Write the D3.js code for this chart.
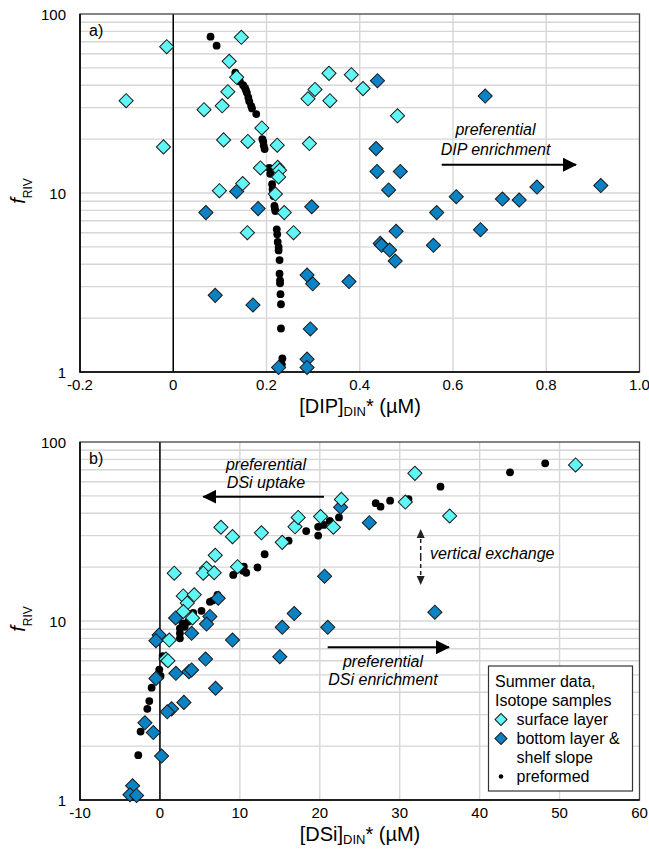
<!DOCTYPE html>
<html><head><meta charset="utf-8">
<script src="https://cdnjs.cloudflare.com/ajax/libs/d3/7.8.5/d3.min.js"></script>
<style>html,body{margin:0;padding:0;background:#fff;}svg{display:block;font-family:"Liberation Sans",Arial,sans-serif;}</style>
</head><body>
<svg id="c" width="649" height="855"></svg>
<script>
// ---------- DATA ----------
// Panel a: x = [DIP]_DIN* (µM), y = f_RIV
const aSurface = [[-0.014,65.7],[-0.101,32.8],[-0.021,18.1],[0.146,74.1],[0.120,54.4],[0.136,44.3],[0.117,36.8],[0.105,30.7],[0.066,29.2],[0.190,23.1],[0.108,19.8],[0.160,19.4],[0.223,18.5],[0.292,18.9],[0.187,13.8],[0.224,13.9],[0.228,13.4],[0.226,12.3],[0.149,11.3],[0.099,10.3],[0.219,9.87],[0.238,7.77],[0.159,6.0],[0.258,6.0],[0.334,46.6],[0.382,45.8],[0.407,38.3],[0.304,37.9],[0.289,33.6],[0.336,32.8],[0.481,27.0]];
const aBottom = [[0.136,10.2],[0.070,7.77],[0.182,8.18],[0.297,8.38],[0.090,2.68],[0.171,2.37],[0.226,1.06],[0.287,3.48],[0.299,3.11],[0.294,1.74],[0.287,1.18],[0.287,1.06],[0.462,10.4],[0.607,9.54],[0.706,9.25],[0.742,9.14],[0.780,10.8],[0.917,11.0],[0.565,7.77],[0.478,6.11],[0.659,6.24],[0.444,5.23],[0.447,5.10],[0.464,4.80],[0.476,4.17],[0.558,5.10],[0.377,3.20],[0.438,42.4],[0.669,34.8],[0.435,17.7],[0.437,13.2],[0.487,13.2]];
const aPreformed = [[0.080,74.7],[0.093,66.5],[0.133,47.0],[0.140,43.3],[0.143,41.9],[0.150,40.0],[0.154,38.6],[0.156,37.5],[0.158,36.3],[0.161,34.2],[0.163,32.5],[0.167,30.7],[0.169,29.7],[0.178,27.6],[0.191,20.0],[0.193,19.4],[0.194,18.4],[0.196,17.6],[0.206,13.8],[0.208,12.8],[0.212,11.2],[0.213,10.5],[0.214,10.0],[0.215,9.62],[0.217,8.46],[0.218,8.2],[0.219,7.93],[0.222,6.27],[0.223,5.88],[0.224,5.33],[0.226,4.99],[0.226,4.78],[0.228,4.22],[0.228,3.54],[0.229,3.25],[0.229,3.13],[0.230,2.72],[0.231,2.39],[0.231,1.75],[0.234,1.19],[0.233,1.10]];
// Panel b: x = [DSi]_DIN* (µM), y = f_RIV
const bSurface = [[1.79,18.5],[7.63,33.4],[9.08,29.6],[12.7,31.1],[15.3,27.5],[6.92,23.3],[5.83,19.7],[5.42,18.5],[6.79,18.6],[9.71,20.1],[2.92,13.8],[4.29,14.0],[3.42,12.6],[2.92,11.3],[4.08,10.4],[16.9,33.6],[17.3,37.9],[20.1,38.3],[22.7,47.8],[21.7,33.4],[31.9,66.8],[30.7,46.2],[36.25,38.6],[52.0,74.4],[1.17,7.83],[0.75,6.13],[1.0,6.0]];
const bBottom = [[22.6,43.2],[26.2,35.4],[20.6,17.8],[34.4,11.2],[21.0,9.22],[7.29,13.4],[1.96,10.4],[6.25,10.6],[5.83,9.62],[16.8,11.0],[15.3,9.22],[3.96,8.54],[9.08,7.83],[-0.1,8.35],[-0.5,7.76],[5.71,6.13],[15.0,6.32],[2.0,5.10],[3.63,5.21],[3.96,5.33],[6.96,4.21],[-0.5,4.78],[3.0,3.51],[1.46,3.23],[0.92,3.11],[-1.875,2.70],[-0.83,2.38],[0.21,1.76],[-3.42,1.20],[-3.75,1.07],[-2.92,1.06]];
const bPreformed = [[48.2,76.0],[43.8,67.7],[35.1,56.3],[31.1,48.0],[28.8,47.0],[27.0,45.5],[27.6,43.5],[22.4,37.9],[21.25,36.3],[20.5,34.4],[19.8,33.6],[19.8,30.0],[18.3,31.8],[16.1,28.1],[13.1,23.6],[12.2,19.9],[10.8,18.6],[10.5,20.1],[9.17,18.1],[10.4,19.1],[7.2,14.0],[6.6,13.0],[6.25,12.8],[5.2,11.4],[4.17,11.1],[2.83,9.71],[2.5,9.1],[2.5,8.54],[2.5,8.0],[3.1,9.29],[3.5,9.9],[0.33,6.37],[-0.08,5.35],[0.08,4.93],[-1.04,4.24],[-1.33,3.57],[-1.58,3.23],[-2.42,2.41],[-2.71,1.78]];
const aXTicks = [-0.2,0,0.2,0.4,0.6,0.8,1.0];
const aXLabels = ["-0.2","0","0.2","0.4","0.6","0.8","1.0"];
const bXTicks = [-10,0,10,20,30,40,50,60];
const bXLabels = ["-10","0","10","20","30","40","50","60"];
const yTicks = [1,10,100];
const yLabels = ["1","10","100"];
const legendLines = ["Summer data,","Isotope samples"];
const legendItems = ["surface layer","bottom layer &","shelf slope","preformed"];

// ---------- STYLE ----------
const CYAN = "#5ff6f6", BLUE = "#0b82c4";
const svg = d3.select("#c");
svg.append("defs").html(
  '<marker id="ah" viewBox="0 0 14 14" refX="13" refY="7" markerWidth="14" markerHeight="14" markerUnits="userSpaceOnUse" orient="auto"><path d="M0,0 L14,7 L0,14 Z" fill="#000"/></marker>'+
  '<marker id="ah2" viewBox="0 0 10 10" refX="9" refY="5" markerWidth="9" markerHeight="9" markerUnits="userSpaceOnUse" orient="auto"><path d="M0,0.5 L10,5 L0,9.5 Z" fill="#222"/></marker>'
);

function panel(o){
  const x = d3.scaleLinear().domain(o.xdom).range([80,639.5]);
  const y = d3.scaleLog().domain([1,100]).range([o.bottom,o.top]);
  const g = svg.append("g");
  const hv=[]; [1,10].forEach(d=>{for(let k=1;k<10;k++){const v=d*k; if(v>1&&v<100) hv.push(v);}});
  g.selectAll(".hg").data(hv).enter().append("line")
    .attr("x1",80).attr("x2",639.5).attr("y1",d=>y(d)).attr("y2",d=>y(d))
    .attr("stroke","#d6d6d6").attr("stroke-width",1.4);
  g.selectAll(".vg").data(o.xticks.slice(1,-1)).enter().append("line")
    .attr("x1",d=>x(d)).attr("x2",d=>x(d)).attr("y1",o.top).attr("y2",o.bottom)
    .attr("stroke","#d6d6d6").attr("stroke-width",1.4);
  g.append("line").attr("x1",x(0)).attr("x2",x(0)).attr("y1",o.top).attr("y2",o.bottom).attr("stroke","#000").attr("stroke-width",1.5);
  g.append("rect").attr("x",80).attr("y",o.top).attr("width",559.5).attr("height",o.bottom-o.top).attr("fill","none").attr("stroke","#444").attr("stroke-width",1.3);
  g.append("path").attr("d",`M80,${o.top}V${o.bottom}H639.5`).attr("fill","none").attr("stroke","#000").attr("stroke-width",1.6);
  g.selectAll(".yl").data(yTicks).enter().append("text").attr("x",66).attr("y",d=>y(d)+5.5)
    .attr("text-anchor","end").attr("font-size",15).text((d,i)=>yLabels[i]);
  g.selectAll(".xl").data(o.xticks).enter().append("text").attr("x",d=>x(d)).attr("y",o.bottom+18)
    .attr("text-anchor","middle").attr("font-size",15).text((d,i)=>o.xlabels[i]);
  const xt = g.append("text").attr("x",360).attr("y",o.bottom+41).attr("text-anchor","middle").attr("font-size",20);
  xt.append("tspan").text(o.xname);
  xt.append("tspan").attr("font-size",13).attr("dy",3).text("DIN");
  xt.append("tspan").attr("dy",-3).text("* (µM)");
  const yt = g.append("text").attr("transform",`translate(25,${(o.top+o.bottom)/2-2}) rotate(-90)`).attr("text-anchor","middle").attr("font-size",20.5);
  yt.append("tspan").attr("font-style","italic").text("f");
  yt.append("tspan").attr("font-size",12).attr("dy",7).text("RIV");
  g.append("text").attr("x",89).attr("y",o.top+22).attr("font-size",16).text(o.letter);
  g.selectAll(".pf").data(o.pre).enter().append("circle").attr("cx",d=>x(d[0])).attr("cy",d=>y(d[1])).attr("r",3.9).attr("fill","#000");
  const dia = d3.symbol(d3.symbolSquare,100);
  g.selectAll(".bt").data(o.bot).enter().append("path").attr("d",dia)
    .attr("transform",d=>`translate(${x(d[0])},${y(d[1])}) rotate(45)`).attr("fill",BLUE).attr("stroke","#1a1a1a").attr("stroke-width",1);
  g.selectAll(".sf").data(o.surf).enter().append("path").attr("d",dia)
    .attr("transform",d=>`translate(${x(d[0])},${y(d[1])}) rotate(45)`).attr("fill",CYAN).attr("stroke","#1a1a1a").attr("stroke-width",1);
  return {x,y,g};
}

const A = panel({xdom:[-0.2,1.0],top:14,bottom:372,xticks:aXTicks,xlabels:aXLabels,xname:"[DIP]",letter:"a)",surf:aSurface,bot:aBottom,pre:aPreformed});
const B = panel({xdom:[-10,60],top:442,bottom:800,xticks:bXTicks,xlabels:bXLabels,xname:"[DSi]",letter:"b)",surf:bSurface,bot:bBottom,pre:bPreformed});

function itext(x,y,t){svg.append("text").attr("x",x).attr("y",y).attr("text-anchor","middle").attr("font-size",16).attr("font-style","italic").text(t);}
function arrow(x1,y1,x2,y2){svg.append("line").attr("x1",x1).attr("y1",y1).attr("x2",x2).attr("y2",y2).attr("stroke","#000").attr("stroke-width",2).attr("marker-end","url(#ah)");}
itext(495.5,135,"preferential"); itext(495.5,155,"DIP enrichment");
arrow(441.7,164.7,576,164.7);
itext(266,470,"preferential"); itext(266,488.3,"DSi uptake");
arrow(324,496.7,203.3,496.7);
itext(383,666.7,"preferential"); itext(383,685,"DSi enrichment");
arrow(327.7,647.3,449,647.3);
svg.append("text").attr("x",430).attr("y",559.3).attr("font-size",16).attr("font-style","italic").text("vertical exchange");
svg.append("line").attr("x1",420.7).attr("x2",420.7).attr("y1",557).attr("y2",530).attr("stroke","#222").attr("stroke-width",1.5).attr("stroke-dasharray","4,3").attr("marker-end","url(#ah2)");
svg.append("line").attr("x1",420.7).attr("x2",420.7).attr("y1",557).attr("y2",584).attr("stroke","#222").attr("stroke-width",1.5).attr("stroke-dasharray","4,3").attr("marker-end","url(#ah2)");

const L = svg.append("g");
L.append("rect").attr("x",488.5).attr("y",666).attr("width",144).attr("height",125).attr("fill","#fff").attr("stroke","#333").attr("stroke-width",1.2);
legendLines.forEach((t,i)=>L.append("text").attr("x",495).attr("y",687+19*i).attr("font-size",16).text(t));
legendItems.forEach((t,i)=>L.append("text").attr("x",516.5).attr("y",724.5+19*i).attr("font-size",16).text(t));
const ldia = d3.symbol(d3.symbolSquare,72);
L.append("path").attr("d",ldia).attr("transform","translate(501,719.5) rotate(45)").attr("fill",CYAN).attr("stroke","#1a1a1a");
L.append("path").attr("d",ldia).attr("transform","translate(501,738.5) rotate(45)").attr("fill",BLUE).attr("stroke","#1a1a1a");
L.append("circle").attr("cx",501).attr("cy",776.5).attr("r",2.3).attr("fill","#000");
</script>
</body></html>
